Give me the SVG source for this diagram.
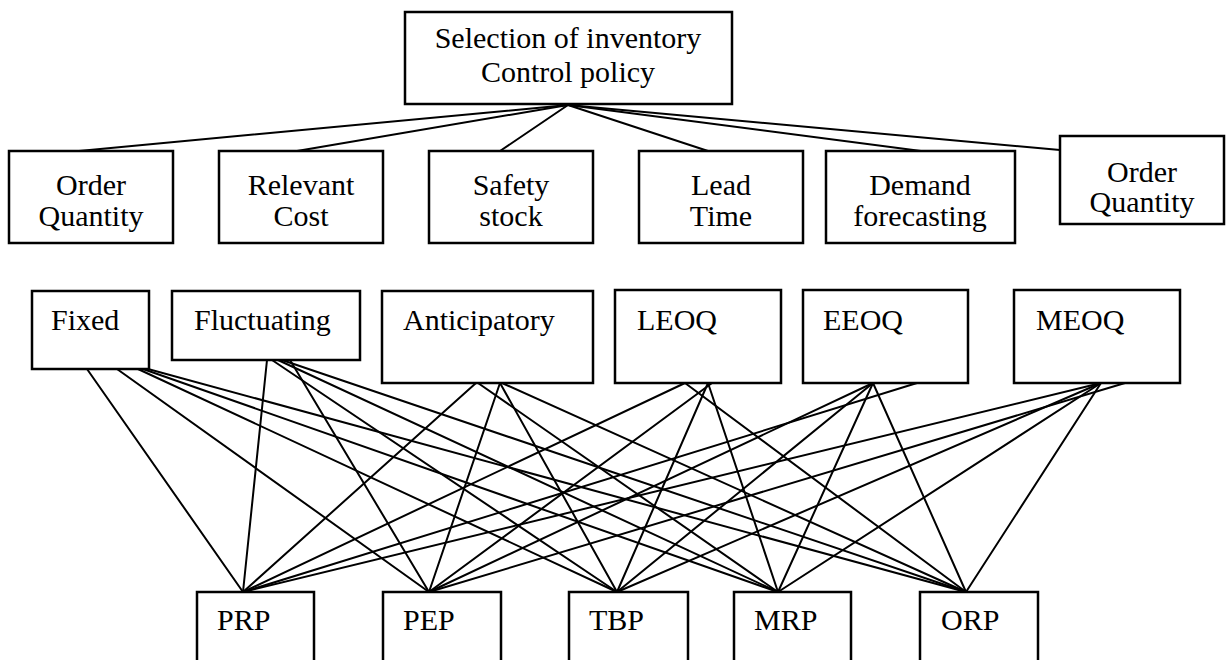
<svg xmlns="http://www.w3.org/2000/svg" width="1229" height="660" viewBox="0 0 1229 660">
  <style>
    .box { fill: #fff; stroke: #000; stroke-width: 2.5; }
    .lbl { font-family: "Liberation Serif", "Times New Roman", serif; font-size: 30px; fill: #000; }
    .mid { text-anchor: middle; }
    .edge { stroke: #000; stroke-width: 2; fill: none; stroke-linecap: round; }
  </style>
  <rect width="1229" height="660" fill="#fff"/>

  <!-- connectors -->
  <g id="connectors" class="edge">
    <!-- root to criteria -->
    <line x1="568" y1="105" x2="79" y2="151"/>
    <line x1="568" y1="105" x2="297" y2="151"/>
    <line x1="568" y1="105" x2="500" y2="151"/>
    <line x1="568" y1="105" x2="708" y2="151"/>
    <line x1="568" y1="105" x2="921" y2="151"/>
    <line x1="568" y1="105" x2="1060" y2="150"/>
    <!-- Fixed -->
    <line x1="87" y1="369" x2="243" y2="592"/>
    <line x1="117" y1="369" x2="429" y2="592"/>
    <line x1="138" y1="369" x2="617" y2="592"/>
    <line x1="143" y1="369" x2="778" y2="592"/>
    <line x1="148" y1="369" x2="966" y2="592"/>
    <!-- Fluctuating -->
    <line x1="267" y1="360" x2="243" y2="592"/>
    <line x1="290" y1="360" x2="429" y2="592"/>
    <line x1="272" y1="360" x2="617" y2="592"/>
    <line x1="278" y1="360" x2="778" y2="592"/>
    <line x1="282" y1="360" x2="966" y2="592"/>
    <!-- Anticipatory -->
    <line x1="476" y1="383" x2="243" y2="592"/>
    <line x1="500" y1="383" x2="429" y2="592"/>
    <line x1="500" y1="383" x2="617" y2="592"/>
    <line x1="478" y1="383" x2="778" y2="592"/>
    <line x1="502" y1="383" x2="966" y2="592"/>
    <!-- LEOQ -->
    <line x1="685" y1="383" x2="243" y2="592"/>
    <line x1="712" y1="383" x2="429" y2="592"/>
    <line x1="708" y1="383" x2="617" y2="592"/>
    <line x1="708" y1="383" x2="778" y2="592"/>
    <line x1="685" y1="383" x2="966" y2="592"/>
    <!-- EEOQ -->
    <line x1="917" y1="383" x2="243" y2="592"/>
    <line x1="873" y1="383" x2="429" y2="592"/>
    <line x1="873" y1="383" x2="617" y2="592"/>
    <line x1="873" y1="383" x2="778" y2="592"/>
    <line x1="873" y1="383" x2="966" y2="592"/>
    <!-- MEOQ -->
    <line x1="1101" y1="383" x2="243" y2="592"/>
    <line x1="1125" y1="383" x2="429" y2="592"/>
    <line x1="1101" y1="383" x2="617" y2="592"/>
    <line x1="1101" y1="383" x2="778" y2="592"/>
    <line x1="1101" y1="383" x2="966" y2="592"/>
  </g>

  <!-- root -->
  <g id="root">
    <rect class="box" x="405" y="12" width="327" height="92"/>
    <text class="lbl mid" x="568" y="48">Selection of inventory</text>
    <text class="lbl mid" x="568" y="82">Control policy</text>
  </g>

  <!-- criteria row -->
  <g id="order-quantity-1">
    <rect class="box" x="9" y="151" width="164" height="92"/>
    <text class="lbl mid" x="91" y="195">Order</text>
    <text class="lbl mid" x="91" y="226">Quantity</text>
  </g>
  <g id="relevant-cost">
    <rect class="box" x="219" y="151" width="164" height="92"/>
    <text class="lbl mid" x="301" y="195">Relevant</text>
    <text class="lbl mid" x="301" y="226">Cost</text>
  </g>
  <g id="safety-stock">
    <rect class="box" x="429" y="151" width="164" height="92"/>
    <text class="lbl mid" x="511" y="195">Safety</text>
    <text class="lbl mid" x="511" y="226">stock</text>
  </g>
  <g id="lead-time">
    <rect class="box" x="639" y="151" width="164" height="92"/>
    <text class="lbl mid" x="721" y="195">Lead</text>
    <text class="lbl mid" x="721" y="226">Time</text>
  </g>
  <g id="demand-forecasting">
    <rect class="box" x="826" y="151" width="189" height="92"/>
    <text class="lbl mid" x="920" y="195">Demand</text>
    <text class="lbl mid" x="920" y="226">forecasting</text>
  </g>
  <g id="order-quantity-2">
    <rect class="box" x="1060" y="136" width="164" height="88"/>
    <text class="lbl mid" x="1142" y="182">Order</text>
    <text class="lbl mid" x="1142" y="212">Quantity</text>
  </g>

  <!-- policy row -->
  <g id="fixed">
    <rect class="box" x="32" y="291" width="117" height="78"/>
    <text class="lbl" x="51" y="330">Fixed</text>
  </g>
  <g id="fluctuating">
    <rect class="box" x="172" y="291" width="188" height="69"/>
    <text class="lbl" x="194" y="330">Fluctuating</text>
  </g>
  <g id="anticipatory">
    <rect class="box" x="382" y="291" width="211" height="92"/>
    <text class="lbl" x="403" y="330">Anticipatory</text>
  </g>
  <g id="leoq">
    <rect class="box" x="615" y="290" width="166" height="93"/>
    <text class="lbl" x="637" y="330">LEOQ</text>
  </g>
  <g id="eeoq">
    <rect class="box" x="803" y="290" width="165" height="93"/>
    <text class="lbl" x="823" y="330">EEOQ</text>
  </g>
  <g id="meoq">
    <rect class="box" x="1014" y="290" width="166" height="93"/>
    <text class="lbl" x="1036" y="330">MEOQ</text>
  </g>

  <!-- planning methods row (boxes run past the lower edge) -->
  <g id="prp">
    <rect class="box" x="197" y="592" width="117" height="90"/>
    <text class="lbl" x="217" y="630">PRP</text>
  </g>
  <g id="pep">
    <rect class="box" x="383" y="592" width="118" height="90"/>
    <text class="lbl" x="403" y="630">PEP</text>
  </g>
  <g id="tbp">
    <rect class="box" x="569" y="592" width="119" height="90"/>
    <text class="lbl" x="589" y="630">TBP</text>
  </g>
  <g id="mrp">
    <rect class="box" x="734" y="592" width="117" height="90"/>
    <text class="lbl" x="754" y="630">MRP</text>
  </g>
  <g id="orp">
    <rect class="box" x="920" y="592" width="118" height="90"/>
    <text class="lbl" x="941" y="630">ORP</text>
  </g>
</svg>
